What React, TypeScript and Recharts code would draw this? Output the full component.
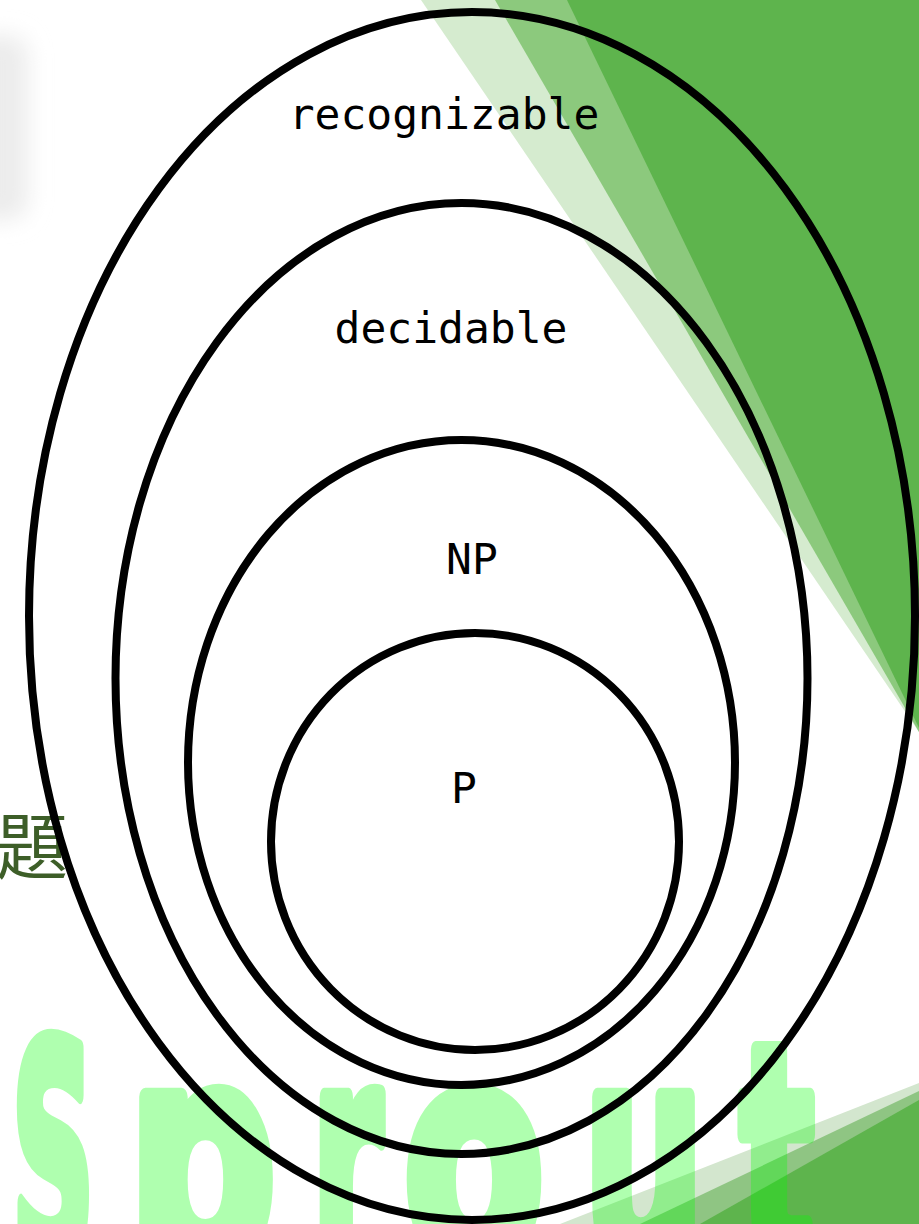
import { ScatterChart, Scatter, XAxis, YAxis } from 'recharts';

const W = 919;
const H = 1224;

// nested sets, outermost first
const setNames = ['recognizable', 'decidable', 'NP', 'P'];
const centerX = [472, 461.5, 461.5, 475];
const centerY = [616, 678.5, 762.5, 841.5];
const radiusX = [443, 346, 273.5, 204];
const radiusY = [604, 475.5, 322.5, 208.5];
const labelX = [444, 451, 472, 464];
const labelY = [129, 343, 574, 803];

const ellipses = setNames.map((name, i) => ({
  name,
  x: centerX[i],
  y: centerY[i],
  rx: radiusX[i],
  ry: radiusY[i],
}));

const labels = setNames.map((name, i) => ({ name, x: labelX[i], y: labelY[i] }));

// slide decoration
const bands = [
  { points: '421,0 919,0 919,732', fill: '#D5EBCF' },
  { points: '495,0 919,0 919,732', fill: '#8CC97D' },
  { points: '567,0 919,0 919,728', fill: '#5EB44D' },
  { points: '919,1083 919,1224 560,1224', fill: '#D3E6CE' },
  { points: '919,1091 919,1224 640,1224', fill: '#8FC583' },
  { points: '919,1100 919,1224 700,1224', fill: '#5EB44D' },
];

const sproutLetters = [
  { ch: 'S', x: 12, w: 82 },
  { ch: 'p', x: 128, w: 148 },
  { ch: 'r', x: 312, w: 70 },
  { ch: 'o', x: 404, w: 140 },
  { ch: 'u', x: 584, w: 120 },
  { ch: 't', x: 740, w: 74 },
];

const EllipseShape = (props: any) => {
  const { cx, cy, payload } = props;
  return (
    <ellipse
      cx={cx}
      cy={cy}
      rx={payload.rx}
      ry={payload.ry}
      fill="none"
      stroke="#000"
      strokeWidth={8}
    />
  );
};

const LabelShape = (props: any) => {
  const { cx, cy, payload } = props;
  return (
    <text
      x={cx}
      y={cy}
      textAnchor="middle"
      fontFamily="'DejaVu Sans Mono', monospace"
      fontSize={43}
      fill="#000"
    >
      {payload.name}
    </text>
  );
};

export default function App() {
  return (
    <div style={{ position: 'absolute', left: 0, top: 0, width: W, height: H, background: '#fff', overflow: 'hidden' }}>
      <svg width={W} height={H} style={{ position: 'absolute', left: 0, top: 0 }}>
        <defs>
          <filter id="soft" x="-50%" y="-50%" width="200%" height="200%">
            <feGaussianBlur stdDeviation="11" />
          </filter>
        </defs>
        <rect x={-40} y={35} width={68} height={185} rx={20} fill="#ececec" filter="url(#soft)" />
        {bands.map((b, i) => (
          <polygon key={i} points={b.points} fill={b.fill} />
        ))}
        <g opacity={0.31}>
          {sproutLetters.map((l) => (
            <text
              key={l.ch}
              x={l.x}
              y={1262}
              fontFamily="'DejaVu Sans', sans-serif"
              fontWeight="bold"
              fontSize={302}
              textLength={l.w}
              lengthAdjust="spacingAndGlyphs"
              fill="#00ff00"
              stroke="#00ff00"
              strokeWidth={18}
              strokeLinejoin="round"
            >
              {l.ch}
            </text>
          ))}
        </g>
        <text x={-4} y={873} fontFamily="'Noto Sans CJK TC', sans-serif" fontSize={72} fill="#3D5E28">
          題
        </text>
      </svg>
      <div style={{ position: 'absolute', left: 0, top: 0 }}>
        <ScatterChart width={W} height={H} margin={{ top: 0, right: 0, bottom: 0, left: 0 }}>
          <XAxis type="number" dataKey="x" domain={[0, W]} hide />
          <YAxis type="number" dataKey="y" domain={[0, H]} reversed hide />
          <Scatter data={ellipses} shape={EllipseShape} isAnimationActive={false} />
          <Scatter data={labels} shape={LabelShape} isAnimationActive={false} />
        </ScatterChart>
      </div>
    </div>
  );
}
